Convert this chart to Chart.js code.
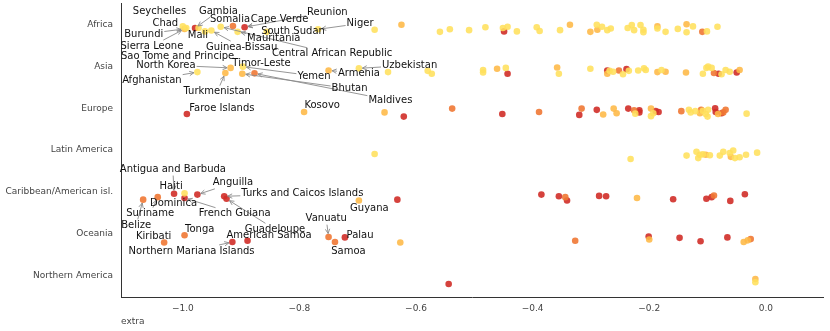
<!DOCTYPE html>
<html>
<head>
<meta charset="utf-8">
<script src="https://cdn.jsdelivr.net/npm/chart.js@4"></script>
<style>
html, body { margin: 0; padding: 0; background: #fff; }
</style>
</head>
<body>
<canvas id="chart1" width="830" height="331"></canvas>
<script>
// categories and ticks
var regions = ['Africa', 'Asia', 'Europe', 'Latin America', 'Caribbean/American isl.', 'Oceania', 'Northern America'];
var xTicks = [-1.0, -0.8, -0.6, -0.4, -0.2, 0.0];

// colour level 0..3 (yellow -> red)
var levelColors = ['rgba(255,224,92,0.88)', 'rgba(254,184,70,0.88)', 'rgba(240,120,52,0.9)', 'rgba(208,45,40,0.9)'];

// [extra, jitter, level]
var africa = [
    [-1.000, 0.05, 0], [-0.997, 0.11, 1], [-0.994, 0.09, 0], [-0.979, 0.09, 3], [-0.973, 0.09, 0],
    [-0.962, 0.17, 0], [-0.951, 0.15, 0], [-0.935, 0.06, 0], [-0.914, 0.04, 2], [-0.894, 0.07, 3],
    [-0.906, 0.18, 0], [-0.856, 0.18, 0], [-0.768, 0.12, 0],
    [-0.671, 0.13, 0], [-0.625, 0.01, 1], [-0.559, 0.18, 0], [-0.542, 0.12, 0], [-0.509, 0.14, 0],
    [-0.481, 0.07, 0], [-0.451, 0.09, 0], [-0.443, 0.06, 0], [-0.449, 0.17, 3], [-0.427, 0.17, 0],
    [-0.393, 0.07, 0], [-0.388, 0.16, 0], [-0.353, 0.14, 0], [-0.336, 0.01, 1], [-0.301, 0.18, 1],
    [-0.290, 0.01, 0], [-0.289, 0.13, 1], [-0.281, 0.06, 0], [-0.272, 0.14, 0], [-0.266, 0.10, 0],
    [-0.237, 0.09, 0], [-0.230, 0.02, 0], [-0.226, 0.14, 0], [-0.215, 0.02, 0], [-0.210, 0.13, 0],
    [-0.210, 0.19, 0], [-0.186, 0.05, 1], [-0.186, 0.10, 0], [-0.172, 0.18, 0], [-0.151, 0.11, 0],
    [-0.136, 0.00, 1], [-0.136, 0.19, 0], [-0.125, 0.05, 0], [-0.109, 0.18, 2], [-0.101, 0.17, 0],
    [-0.083, 0.06, 0]
];
var asia = [
    [-0.975, 0.14, 0], [-0.927, 0.16, 1], [-0.918, 0.04, 1], [-0.897, 0.01, 0], [-0.898, 0.18, 1],
    [-0.877, 0.17, 2], [-0.750, 0.10, 1], [-0.698, 0.05, 0],
    [-0.648, 0.14, 0], [-0.580, 0.11, 0], [-0.573, 0.18, 0], [-0.485, 0.09, 0], [-0.485, 0.15, 0],
    [-0.461, 0.06, 1], [-0.446, 0.04, 0], [-0.443, 0.18, 3], [-0.358, 0.03, 1], [-0.355, 0.18, 0],
    [-0.301, 0.06, 0], [-0.272, 0.10, 3], [-0.272, 0.18, 1], [-0.268, 0.11, 0], [-0.262, 0.13, 0],
    [-0.252, 0.10, 2], [-0.245, 0.19, 0], [-0.239, 0.07, 3], [-0.235, 0.11, 0], [-0.219, 0.10, 0],
    [-0.209, 0.05, 0], [-0.206, 0.09, 0], [-0.186, 0.14, 1], [-0.179, 0.09, 0], [-0.172, 0.13, 1],
    [-0.137, 0.15, 1], [-0.108, 0.18, 0], [-0.102, 0.04, 0], [-0.099, 0.01, 0], [-0.093, 0.04, 0],
    [-0.089, 0.16, 2], [-0.081, 0.18, 3], [-0.076, 0.19, 0], [-0.069, 0.09, 0], [-0.062, 0.13, 0],
    [-0.050, 0.15, 3], [-0.045, 0.09, 1]
];
var europe = [
    [-0.993, 0.14, 3], [-0.792, 0.09, 1],
    [-0.654, 0.10, 1], [-0.621, 0.20, 3], [-0.538, 0.01, 2], [-0.452, 0.14, 3], [-0.389, 0.09, 2],
    [-0.320, 0.16, 3], [-0.316, 0.01, 2], [-0.290, 0.04, 3], [-0.279, 0.15, 1], [-0.261, 0.01, 1],
    [-0.256, 0.12, 1], [-0.236, 0.01, 3], [-0.226, 0.05, 2], [-0.224, 0.13, 0], [-0.217, 0.05, 3],
    [-0.217, 0.10, 3], [-0.197, 0.01, 1], [-0.197, 0.19, 0], [-0.193, 0.12, 0], [-0.189, 0.07, 3],
    [-0.184, 0.09, 3], [-0.145, 0.07, 2], [-0.132, 0.04, 0], [-0.129, 0.10, 0], [-0.121, 0.07, 0],
    [-0.113, 0.12, 1], [-0.111, 0.04, 2], [-0.108, 0.06, 0], [-0.103, 0.14, 0], [-0.100, 0.20, 0],
    [-0.099, 0.04, 0], [-0.087, 0.00, 3], [-0.086, 0.09, 3], [-0.082, 0.14, 1], [-0.076, 0.12, 3],
    [-0.073, 0.10, 2], [-0.069, 0.04, 2], [-0.033, 0.13, 0]
];
var latinAmerica = [
    [-0.671, 0.09, 0], [-0.232, 0.21, 0], [-0.136, 0.13, 0], [-0.119, 0.04, 0], [-0.116, 0.19, 0],
    [-0.113, 0.11, 0], [-0.108, 0.10, 0], [-0.103, 0.11, 1], [-0.096, 0.12, 0], [-0.079, 0.13, 0],
    [-0.073, 0.04, 0], [-0.062, 0.07, 0], [-0.060, 0.16, 1], [-0.056, 0.01, 0], [-0.053, 0.19, 0],
    [-0.045, 0.17, 0], [-0.034, 0.11, 0], [-0.015, 0.06, 0]
];
var caribbean = [
    [-1.068, 0.18, 2], [-1.043, 0.12, 2], [-1.015, 0.04, 3], [-0.997, 0.03, 0], [-0.997, 0.14, 3],
    [-0.975, 0.06, 3], [-0.929, 0.10, 3], [-0.925, 0.16, 3], [-0.698, 0.20, 1],
    [-0.632, 0.18, 3], [-0.385, 0.06, 3], [-0.355, 0.10, 3], [-0.344, 0.12, 2], [-0.341, 0.20, 3],
    [-0.286, 0.09, 3], [-0.274, 0.10, 3], [-0.221, 0.14, 1], [-0.159, 0.17, 3], [-0.102, 0.16, 3],
    [-0.093, 0.12, 3], [-0.089, 0.08, 2], [-0.061, 0.21, 3], [-0.036, 0.05, 3]
];
var oceania = [
    [-1.032, 0.20, 2], [-0.997, 0.03, 2], [-0.915, 0.19, 3], [-0.889, 0.16, 3], [-0.750, 0.07, 2],
    [-0.739, 0.19, 2], [-0.722, 0.08, 3],
    [-0.627, 0.20, 1], [-0.327, 0.16, 2], [-0.201, 0.06, 3], [-0.200, 0.13, 1], [-0.148, 0.09, 3],
    [-0.112, 0.17, 3], [-0.066, 0.08, 3], [-0.038, 0.19, 1], [-0.031, 0.15, 1], [-0.026, 0.12, 2]
];
var northernAmerica = [
    [-0.544, 0.19, 3], [-0.018, 0.07, 1], [-0.018, 0.15, 0]
];
var rows = [africa, asia, europe, latinAmerica, caribbean, oceania, northernAmerica];

// [name, region, point index, text x, text y, arrow]
var countryLabels = [
    ['Seychelles', 0, 0, -1.040, -0.310, 0],
    ['Gambia', 0, 3, -0.939, -0.310, 1],
    ['Chad', 0, 0, -1.030, -0.025, 1],
    ['Burundi', 0, 1, -1.067, 0.236, 1],
    ['Mali', 0, 2, -0.974, 0.259, 1],
    ['Sierra Leone', 0, 1, -1.053, 0.520, 1],
    ['Sao Tome and Principe', 0, 2, -1.009, 0.760, 0],
    ['Guinea-Bissau', 0, 6, -0.899, 0.544, 1],
    ['Mauritania', 0, 10, -0.844, 0.347, 1],
    ['Somalia', 0, 8, -0.919, -0.113, 0],
    ['Cape Verde', 0, 9, -0.834, -0.113, 1],
    ['Reunion', 0, 9, -0.752, -0.294, 1],
    ['South Sudan', 0, 11, -0.811, 0.172, 0],
    ['Niger', 0, 12, -0.696, -0.018, 1],
    ['Central African Republic', 0, 7, -0.744, 0.703, 1],
    ['North Korea', 1, 2, -1.029, 0.971, 1],
    ['Afghanistan', 1, 0, -1.053, 1.327, 1],
    ['Turkmenistan', 1, 1, -0.941, 1.605, 1],
    ['Timor-Leste', 1, 3, -0.865, 0.940, 0],
    ['Yemen', 1, 3, -0.775, 1.232, 1],
    ['Bhutan', 1, 4, -0.714, 1.534, 1],
    ['Maldives', 1, 5, -0.644, 1.809, 1],
    ['Armenia', 1, 6, -0.698, 1.168, 1],
    ['Uzbekistan', 1, 7, -0.611, 0.978, 1],
    ['Faroe Islands', 2, 0, -0.933, 2.008, 1],
    ['Kosovo', 2, 1, -0.761, 1.944, 1],
    ['Antigua and Barbuda', 4, 2, -1.017, 3.463, 1],
    ['Haiti', 4, 3, -1.020, 3.859, 0],
    ['Anguilla', 4, 5, -0.914, 3.779, 1],
    ['Turks and Caicos Islands', 4, 6, -0.795, 4.040, 1],
    ['Dominica', 4, 4, -1.016, 4.263, 1],
    ['Suriname', 4, 1, -1.056, 4.514, 1],
    ['French Guiana', 4, 4, -0.911, 4.514, 1],
    ['Belize', 4, 0, -1.080, 4.792, 1],
    ['Guadeloupe', 4, 7, -0.842, 4.887, 1],
    ['Guyana', 4, 8, -0.680, 4.381, 1],
    ['Tonga', 5, 1, -0.971, 4.894, 1],
    ['Kiribati', 5, 0, -1.050, 5.053, 1],
    ['Northern Mariana Islands', 5, 2, -0.985, 5.402, 1],
    ['American Samoa', 5, 3, -0.852, 5.029, 1],
    ['Vanuatu', 5, 4, -0.754, 4.633, 1],
    ['Samoa', 5, 5, -0.716, 5.402, 1],
    ['Palau', 5, 6, -0.696, 5.029, 1]
];

var datasets = levelColors.map(function(c, lvl) {
    var pts = [];
    rows.forEach(function(row, r) {
        row.forEach(function(p) {
            if (p[2] === lvl) pts.push({x: p[0], y: r + p[1]});
        });
    });
    return {
        data: pts,
        backgroundColor: c,
        borderWidth: 0,
        pointRadius: 3.3,
        pointHoverRadius: 3.3
    };
});

// text labels with arrows, placed through the scales
var labelPlugin = {
    id: 'countryLabels',
    afterDatasetsDraw: function(chart) {
        var ctx = chart.ctx, xs = chart.scales.x, ys = chart.scales.y;
        ctx.save();
        ctx.font = '10px "DejaVu Sans"';
        ctx.textAlign = 'center';
        ctx.textBaseline = 'middle';
        var items = countryLabels.map(function(l) {
            var p = rows[l[1]][l[2]];
            return {
                name: l[0],
                tx: xs.getPixelForValue(l[3]),
                ty: ys.getPixelForValue(l[4]),
                px: xs.getPixelForValue(p[0]),
                py: ys.getPixelForValue(l[1] + p[1]),
                w: ctx.measureText(l[0]).width,
                arrow: l[5]
            };
        });
        ctx.strokeStyle = '#8a8a8a';
        ctx.lineWidth = 0.9;
        items.forEach(function(b) {
            if (!b.arrow) return;
            var dx = b.px - b.tx, dy = b.py - b.ty;
            var t = Math.min((b.w / 2 + 1) / Math.abs(dx || 1e-9), 6 / Math.abs(dy || 1e-9));
            if (t >= 1) return;
            var sx = b.tx + dx * t, sy = b.ty + dy * t;
            var len = Math.hypot(b.px - sx, b.py - sy);
            if (len < 6) return;
            var ux = (b.px - sx) / len, uy = (b.py - sy) / len;
            var ex = b.px - ux * 3.5, ey = b.py - uy * 3.5;
            ctx.beginPath();
            ctx.moveTo(sx, sy);
            ctx.lineTo(ex, ey);
            var a = Math.atan2(uy, ux);
            ctx.moveTo(ex - 5 * Math.cos(a - 0.45), ey - 5 * Math.sin(a - 0.45));
            ctx.lineTo(ex, ey);
            ctx.lineTo(ex - 5 * Math.cos(a + 0.45), ey - 5 * Math.sin(a + 0.45));
            ctx.stroke();
        });
        ctx.fillStyle = '#111';
        items.forEach(function(b) {
            ctx.fillText(b.name, b.tx, b.ty);
        });
        ctx.restore();
    }
};

var chart1El = document.getElementById('chart1');
new Chart(chart1El, {
    type: 'scatter',
    data: { datasets: datasets },
    plugins: [labelPlugin],
    options: {
        responsive: false,
        animation: false,
        events: [],
        layout: { padding: { left: 0, top: 2, right: 7, bottom: 0 } },
        plugins: {
            legend: { display: false },
            tooltip: { enabled: false }
        },
        scales: {
            x: {
                type: 'linear',
                min: -1.106,
                max: 0.098,
                grid: { display: false, drawTicks: false },
                border: { display: true, color: '#333', width: 1 },
                afterBuildTicks: function(scale) {
                    scale.ticks = xTicks.map(function(v) { return {value: v}; });
                },
                afterFit: function(scale) {
                    scale.height = 34;
                    scale.paddingLeft = 0;
                    scale.paddingRight = 0;
                },
                ticks: {
                    padding: 6,
                    color: '#444',
                    font: { family: 'DejaVu Sans', size: 9 },
                    callback: function(v) {
                        if (Math.abs(v) < 1e-9) return '0.0';
                        return (v < 0 ? '\u2212' : '') + Math.abs(v).toFixed(1);
                    }
                },
                title: {
                    display: true,
                    text: 'extra',
                    align: 'start',
                    color: '#444',
                    font: { family: 'DejaVu Sans', size: 9 },
                    padding: { top: 0, bottom: 4 }
                }
            },
            y: {
                type: 'linear',
                reverse: true,
                min: -0.5,
                max: 6.5,
                grid: { display: false, drawTicks: false },
                border: { display: true, color: '#333', width: 1 },
                afterBuildTicks: function(scale) {
                    scale.ticks = regions.map(function(r, i) { return {value: i}; });
                },
                afterFit: function(scale) {
                    scale.width = 121;
                    scale.paddingTop = 0;
                    scale.paddingBottom = 0;
                },
                ticks: {
                    padding: 8,
                    color: '#444',
                    autoSkip: false,
                    font: { family: 'DejaVu Sans', size: 9 },
                    callback: function(v) { return regions[v]; }
                }
            }
        }
    }
});
</script>
</body>
</html>
